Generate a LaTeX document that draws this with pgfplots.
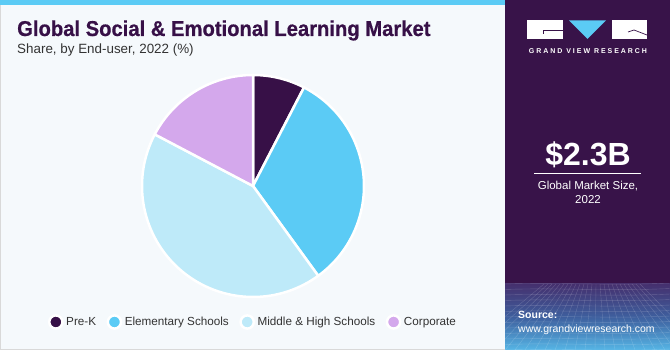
\documentclass[border=0pt]{standalone}
\usepackage{pgfplots}
\pgfplotsset{compat=1.18}
\usepackage{pgfplotstable}
\usepackage{fontspec}
\setmainfont{Liberation Sans}
\newfontfamily\titlefont[FakeStretch=0.94,FakeBold=0.6]{Liberation Sans Bold}
\newfontfamily\logofont[LetterSpace=28]{Liberation Sans Bold}
\definecolor{prek}{HTML}{371047}
\definecolor{elem}{HTML}{5BCBF5}
\definecolor{midhigh}{HTML}{BEEAF9}
\definecolor{corp}{HTML}{D4A8EC}
\definecolor{bgc}{HTML}{F5F9FC}
\definecolor{side}{HTML}{381349}
\definecolor{txt}{HTML}{333333}
\definecolor{gridtop}{HTML}{45306E}
\definecolor{gridmid}{HTML}{3E5F9E}
\definecolor{gridbot}{HTML}{56B6E6}

\pgfplotstableread{
share
7.6
32.4
42.7
17.3
}\sharedata

\begin{document}
\begin{tikzpicture}[x=1pt,y=1pt]
% backgrounds
\fill[bgc] (0,0) rectangle (670,350);
\draw[black!15, line width=0.8pt] (0.4,0.4) rectangle (505,349.6);
\fill[elem] (0,345) rectangle (505,350);
\fill[side] (505,0) rectangle (670,350);
\shade[top color=gridtop, bottom color=gridbot, middle color=gridmid] (505,0) rectangle (670,66);
\begin{scope}
\clip (505,0) rectangle (670,66);
\foreach \i in {-4,...,20} {\draw[white, opacity=0.18, line width=0.4pt] (505+\i*10,0) -- (580+\i*4-20,66);}
\foreach \j in {0,...,12} {\draw[white, opacity=0.18, line width=0.4pt] (505,\j*5.5) .. controls (560,\j*5.5+2) and (610,\j*5.5-2) .. (670,\j*5.5+1);}
\end{scope}

\pgfplotstablegetelem{0}{share}\of\sharedata \let\sA\pgfplotsretval
\pgfplotstablegetelem{1}{share}\of\sharedata \let\sB\pgfplotsretval
\pgfplotstablegetelem{2}{share}\of\sharedata \let\sC\pgfplotsretval
\pgfplotstablegetelem{3}{share}\of\sharedata \let\sD\pgfplotsretval
\pgfmathsetmacro\aA{90}
\pgfmathsetmacro\aB{\aA-3.6*\sA}
\pgfmathsetmacro\aC{\aB-3.6*\sB}
\pgfmathsetmacro\aD{\aC-3.6*\sC}
\pgfmathsetmacro\aE{\aD-3.6*\sD}
\def\cx{253}\def\cy{164}\def\rr{111}

\begin{axis}[
  at={(0,0)}, anchor=origin,
  x=1pt, y=1pt, xmin=0, xmax=670, ymin=0, ymax=350,
  hide axis, clip=false,
  legend style={at={(axis cs:47.8,28)}, anchor=west, draw=none, fill=none,
    font=\fontsize{11.7}{13}\selectfont\color{txt}, inner sep=0pt,
    /tikz/every even column/.append style={column sep=8.5pt},
    /tikz/every odd column/.append style={column sep=0.5pt}},
  legend columns=-1,
  legend image code/.code={\fill[#1] (0pt,0pt) circle (6.6pt);},
]
\addplot[fill=prek, draw=white, line width=2.5pt, line join=round, domain=\aB:\aA, samples=40, variable=\t]
  ({\cx+\rr*cos(\t)},{\cy+\rr*sin(\t)}) -- (axis cs:\cx,\cy) -- cycle;
\addplot[fill=elem, draw=white, line width=2.5pt, line join=round, domain=\aC:\aB, samples=80, variable=\t]
  ({\cx+\rr*cos(\t)},{\cy+\rr*sin(\t)}) -- (axis cs:\cx,\cy) -- cycle;
\addplot[fill=midhigh, draw=white, line width=2.5pt, line join=round, domain=\aD:\aC, samples=100, variable=\t]
  ({\cx+\rr*cos(\t)},{\cy+\rr*sin(\t)}) -- (axis cs:\cx,\cy) -- cycle;
\addplot[fill=corp, draw=white, line width=2.5pt, line join=round, domain=\aE:\aD, samples=50, variable=\t]
  ({\cx+\rr*cos(\t)},{\cy+\rr*sin(\t)}) -- (axis cs:\cx,\cy) -- cycle;
\addlegendimage{fill=prek}\addlegendentry{Pre-K}
\addlegendimage{fill=elem}\addlegendentry{Elementary Schools}
\addlegendimage{fill=midhigh}\addlegendentry{Middle \& High Schools}
\addlegendimage{fill=corp}\addlegendentry{Corporate}
\end{axis}

% titles
\node[anchor=base west, inner sep=0pt, text=prek] at (17,314) {\titlefont\fontsize{21.5}{24}\selectfont Global Social \& Emotional Learning Market};
\node[anchor=base west, inner sep=0pt, text=txt] at (17,296) {\fontsize{13.4}{15}\selectfont Share, by End-user, 2022 (\%)};

% sidebar logo
\fill[white] (527,310.5) rectangle (563,329.5);
\fill[white] (612,310.5) rectangle (647,329.5);
\fill[elem] (569,329.5) -- (606,329.5) -- (587.5,311) -- cycle;
\draw[side, line width=0.8pt] (563,319.5) -- (543,319.5) -- (543,316);
\draw[side, line width=0.7pt] (634,320) -- (647,315);
\draw[side, line width=0.7pt] (628,318) -- (634,320);
\node[anchor=base, inner sep=0pt, text=white] at (588,296) {\logofont\fontsize{7}{8}\selectfont GRAND VIEW RESEARCH};

\node[anchor=base, inner sep=0pt, text=white] at (588,184) {\bfseries\fontsize{32}{36}\selectfont \$2.3B};
\draw[white, line width=0.6pt] (534,176.5) -- (641,176.5);
\node[anchor=base, inner sep=0pt, text=white] at (588,160) {\fontsize{11.5}{14}\selectfont Global Market Size,};
\node[anchor=base, inner sep=0pt, text=white] at (588,146) {\fontsize{11.5}{14}\selectfont 2022};

\node[anchor=base west, inner sep=0pt, text=white] at (518,31) {\bfseries\fontsize{10.5}{12}\selectfont Source:};
\node[anchor=base west, inner sep=0pt, text=white] at (518,17) {\fontsize{10.5}{12}\selectfont www.grandviewresearch.com};
\end{tikzpicture}
\end{document}
